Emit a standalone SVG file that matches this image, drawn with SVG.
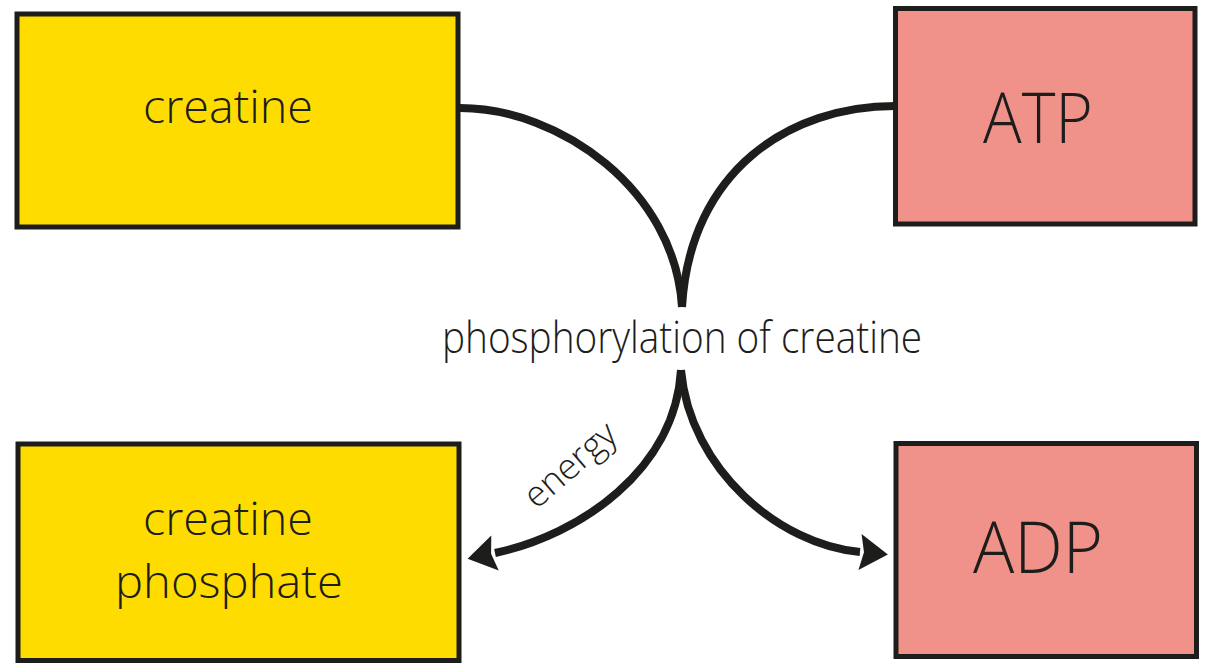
<svg xmlns="http://www.w3.org/2000/svg" width="1207" height="664" viewBox="0 0 1207 664">
  <defs>
    <style>
      .box { stroke: #1d1d1b; stroke-width: 5; }
      .yellow { fill: #FFDC00; }
      .pink { fill: #F1928A; }
      .lbl { font-family: "Open Sans", "Noto Sans", "Liberation Sans", sans-serif; font-weight: 300; fill: #1d1d1b; text-anchor: middle; }
      .conn { fill: none; stroke: #1d1d1b; stroke-width: 8; stroke-linecap: butt; }
    </style>
    <marker id="arrow" markerUnits="userSpaceOnUse" markerWidth="40" markerHeight="40" viewBox="0 -20 30 40" refX="0" refY="0" orient="auto">
      <path d="M0,-18 L28,0 L0,18 L4,0 Z" fill="#1d1d1b"/>
    </marker>
  </defs>
  <rect width="1207" height="664" fill="#ffffff"/>

  <g id="node-creatine">
    <rect class="box yellow" x="17" y="14" width="441" height="213"/>
    <text class="lbl" x="228" y="123" font-size="46" textLength="170" lengthAdjust="spacingAndGlyphs">creatine</text>
  </g>

  <g id="node-atp">
    <rect class="box pink" x="895.5" y="8.5" width="299.5" height="215.5"/>
    <text class="lbl" x="1038" y="143" font-size="70" textLength="110" lengthAdjust="spacingAndGlyphs">ATP</text>
  </g>

  <g id="node-creatine-phosphate">
    <rect class="box yellow" x="18" y="444" width="441" height="216.5"/>
    <text class="lbl" x="228" y="535" font-size="46" textLength="170" lengthAdjust="spacingAndGlyphs">creatine</text>
    <text class="lbl" x="229" y="598" font-size="46" textLength="228" lengthAdjust="spacingAndGlyphs">phosphate</text>
  </g>

  <g id="node-adp">
    <rect class="box pink" x="896" y="443.5" width="300.5" height="213"/>
    <text class="lbl" x="1038" y="573" font-size="71" textLength="130" lengthAdjust="spacingAndGlyphs">ADP</text>
  </g>

  <g id="node-reaction">
    <text class="lbl" x="682" y="353" font-size="45" textLength="480" lengthAdjust="spacingAndGlyphs">phosphorylation of creatine</text>
  </g>

  <g id="connectors">
    <path class="conn" d="M460,108 C560,108 675,190 682,307"/>
    <path class="conn" d="M895,106 C790,106 690,170 682,307"/>
    <path class="conn" d="M681,370 C675,470 580,535 495,553" marker-end="url(#arrow)"/>
    <path class="conn" d="M681,370 C690,470 780,545 860,552" marker-end="url(#arrow)"/>
    <text class="lbl" font-size="36" transform="translate(578,474) rotate(-41)">energy</text>
  </g>
</svg>
